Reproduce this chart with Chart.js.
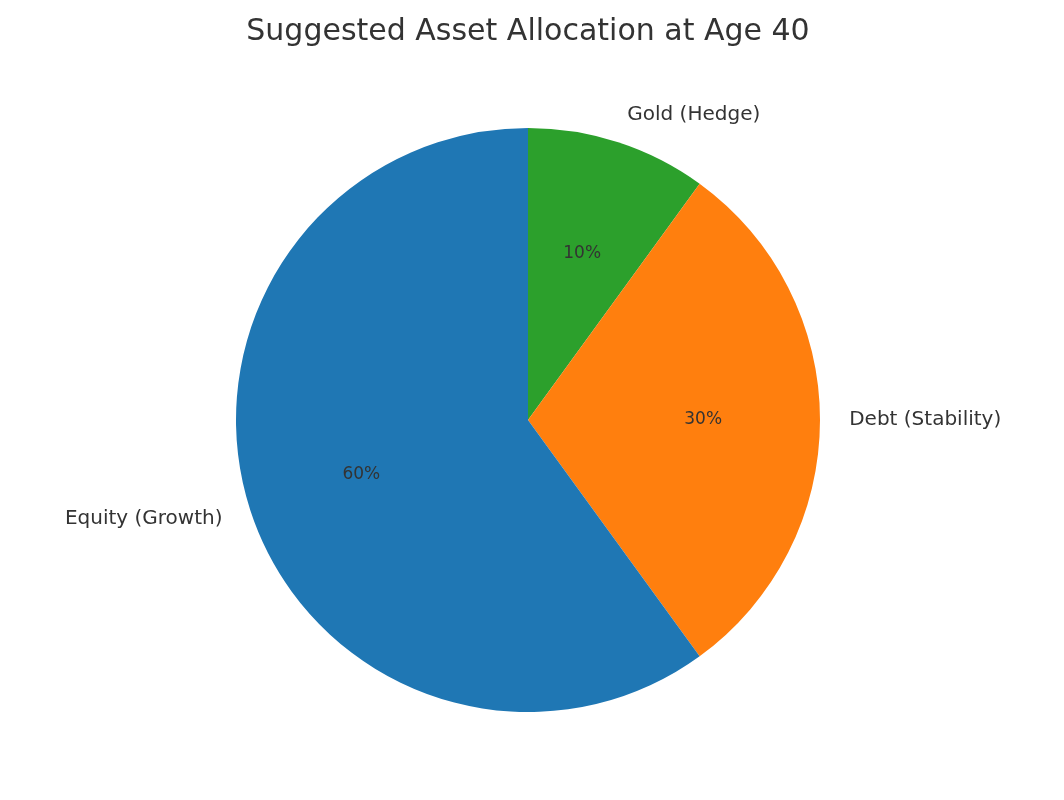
<!DOCTYPE html>
<html>
<head>
<meta charset="utf-8">
<script src="https://cdn.jsdelivr.net/npm/chart.js@4"></script>
<style>
  body { margin: 0; background: #fff; }
  #wrap { width: 1064px; height: 800px; }
</style>
</head>
<body>
<div id="wrap"><canvas id="pie" width="1064" height="800"></canvas></div>
<script>
// clockwise from the top, as Chart.js draws
const categories = ['Gold (Hedge)', 'Debt (Stability)', 'Equity (Growth)'];
const shares = [10, 30, 60];
const colors = ['#2ca02c', '#ff7f0e', '#1f77b4'];
const chartTitle = 'Suggested Asset Allocation at Age 40';

// Labels outside the slices and percentages inside, like matplotlib's autopct
const pieLabels = {
    id: 'pieLabels',
    afterDraw(chart) {
        const ctx = chart.ctx;
        const total = shares.reduce((a, b) => a + b, 0);
        ctx.save();
        ctx.fillStyle = '#333';
        ctx.textBaseline = 'middle';
        ctx.font = '30px "DejaVu Sans"';
        ctx.textAlign = 'center';
        ctx.fillText(chartTitle, 528, 32);

        chart.getDatasetMeta(0).data.forEach((arc, i) => {
            const mid = (arc.startAngle + arc.endAngle) / 2;
            const r = arc.outerRadius;
            const c = Math.cos(mid), s = Math.sin(mid);

            ctx.font = '20px "DejaVu Sans"';
            ctx.textAlign = Math.abs(c) < 1e-6 ? 'center' : (c > 0 ? 'left' : 'right');
            ctx.fillText(categories[i], arc.x + c * r * 1.1, arc.y + s * r * 1.1);

            ctx.font = '17px "DejaVu Sans"';
            ctx.textAlign = 'center';
            const pct = Math.round(shares[i] / total * 100) + '%';
            ctx.fillText(pct, arc.x + c * r * 0.6, arc.y + s * r * 0.6);
        });
        ctx.restore();
    }
};

new Chart(document.getElementById('pie'), {
    type: 'pie',
    data: {
        labels: categories,
        datasets: [{
            data: shares,
            backgroundColor: colors,
            borderWidth: 0,
        }],
    },
    options: {
        responsive: false,
        animation: false,
        layout: { padding: { top: 128, bottom: 88, left: 0, right: 8 } },
        plugins: {
            legend: { display: false },
            tooltip: { enabled: false },
        },
    },
    plugins: [pieLabels],
});
</script>
</body>
</html>
